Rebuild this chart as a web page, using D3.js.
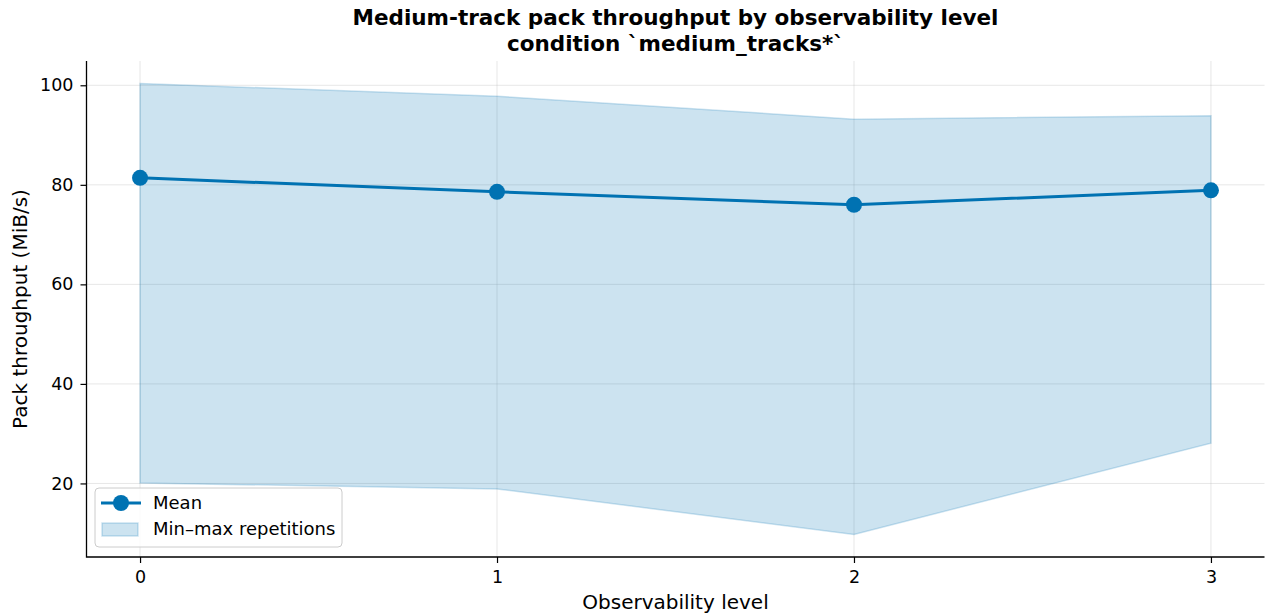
<!DOCTYPE html>
<html>
<head>
<meta charset="utf-8">
<script src="https://cdn.jsdelivr.net/npm/d3@7"></script>
<style>
  body { margin: 0; background: #fff; }
  svg { display: block; font-family: "DejaVu Sans", sans-serif; }
</style>
</head>
<body>
<script>
// Observability levels and throughput per level (MiB/s)
const levels = [0, 1, 2, 3];
const meanValues = [81.4, 78.6, 76.0, 78.9];
const minValues = [20.1, 18.9, 9.75, 28.1];
const maxValues = [100.35, 97.8, 93.2, 93.9];
const yTicks = [20, 40, 60, 80, 100];

const width = 1266, height = 614;
const marginTop = 61, marginRight = 1.5, marginBottom = 57, marginLeft = 86.5;
const color = "#0072B2";

const svg = d3.select("body").append("svg")
  .attr("width", width)
  .attr("height", height);

// matplotlib-style 5% margins around the data
const xPad = (d3.max(levels) - d3.min(levels)) * 0.05;
const yLo = d3.min(minValues), yHi = d3.max(maxValues);
const yPad = (yHi - yLo) * 0.05;

const x = d3.scaleLinear()
  .domain([d3.min(levels) - xPad, d3.max(levels) + xPad])
  .range([marginLeft, width - marginRight]);
const y = d3.scaleLinear()
  .domain([yLo - yPad, yHi + yPad])
  .range([height - marginBottom, marginTop]);

// grid
svg.append("g")
  .attr("stroke", "#b0b0b0")
  .attr("stroke-opacity", 0.3)
  .attr("stroke-width", 1)
  .call(g => g.selectAll("line.v").data(levels).join("line")
    .attr("x1", d => x(d)).attr("x2", d => x(d))
    .attr("y1", marginTop).attr("y2", height - marginBottom))
  .call(g => g.selectAll("line.h").data(yTicks).join("line")
    .attr("x1", marginLeft).attr("x2", width - marginRight)
    .attr("y1", d => y(d)).attr("y2", d => y(d)));

// min-max band
const band = levels.map((l, i) => ({ l, lo: minValues[i], hi: maxValues[i] }));
svg.append("path")
  .datum(band)
  .attr("fill", color)
  .attr("fill-opacity", 0.2)
  .attr("stroke", color)
  .attr("stroke-opacity", 0.2)
  .attr("stroke-width", 1.5)
  .attr("d", d3.area().x(d => x(d.l)).y0(d => y(d.lo)).y1(d => y(d.hi)));

// mean line
const pts = levels.map((l, i) => ({ l, v: meanValues[i] }));
svg.append("path")
  .datum(pts)
  .attr("fill", "none")
  .attr("stroke", color)
  .attr("stroke-width", 3)
  .attr("d", d3.line().x(d => x(d.l)).y(d => y(d.v)));
svg.append("g")
  .selectAll("circle")
  .data(pts)
  .join("circle")
  .attr("cx", d => x(d.l))
  .attr("cy", d => y(d.v))
  .attr("r", 8)
  .attr("fill", color);

// axes (spines drawn by hand, only left and bottom)
const xAxis = svg.append("g")
  .attr("transform", `translate(0,${height - marginBottom})`)
  .call(d3.axisBottom(x).tickValues(levels).tickFormat(d3.format("d")).tickSize(6).tickPadding(8));
const yAxis = svg.append("g")
  .attr("transform", `translate(${marginLeft},0)`)
  .call(d3.axisLeft(y).tickValues(yTicks).tickSize(6).tickPadding(7));
[xAxis, yAxis].forEach(g => {
  g.attr("font-family", "DejaVu Sans, sans-serif").attr("font-size", 17.5);
  g.select(".domain").remove();
  g.selectAll(".tick line").attr("stroke", "#000").attr("stroke-width", 1.2);
  g.selectAll(".tick text").attr("fill", "#000");
});
svg.append("path")
  .attr("fill", "none")
  .attr("stroke", "#000")
  .attr("stroke-width", 1.3)
  .attr("d", `M${marginLeft},${marginTop}V${height - marginBottom}H${width - marginRight}`);

// labels
svg.append("text")
  .attr("x", (marginLeft + width - marginRight) / 2)
  .attr("y", 609)
  .attr("text-anchor", "middle")
  .attr("font-size", 20)
  .text("Observability level");
svg.append("text")
  .attr("transform", `translate(27,${(marginTop + height - marginBottom) / 2}) rotate(-90)`)
  .attr("text-anchor", "middle")
  .attr("font-size", 20)
  .text("Pack throughput (MiB/s)");

const title = svg.append("text")
  .attr("text-anchor", "middle")
  .attr("font-size", 21.5)
  .attr("font-weight", "bold");
title.append("tspan").attr("x", (marginLeft + width - marginRight) / 2).attr("y", 25)
  .text("Medium-track pack throughput by observability level");
title.append("tspan").attr("x", (marginLeft + width - marginRight) / 2).attr("y", 51)
  .text("condition `medium_tracks*`");

// legend
const lg = svg.append("g").attr("transform", "translate(95,488)");
lg.append("rect")
  .attr("width", 247).attr("height", 59).attr("rx", 4)
  .attr("fill", "#fff").attr("fill-opacity", 0.8)
  .attr("stroke", "#ccc");
lg.append("line").attr("x1", 6).attr("x2", 46).attr("y1", 15).attr("y2", 15)
  .attr("stroke", color).attr("stroke-width", 3);
lg.append("circle").attr("cx", 26).attr("cy", 15).attr("r", 8).attr("fill", color);
lg.append("rect").attr("x", 7).attr("y", 35).attr("width", 36).attr("height", 13)
  .attr("fill", color).attr("fill-opacity", 0.2)
  .attr("stroke", color).attr("stroke-opacity", 0.2).attr("stroke-width", 1.5);
lg.selectAll("text.lbl")
  .data(["Mean", "Min\u2013max repetitions"])
  .join("text")
  .attr("x", 58)
  .attr("y", (d, i) => 21 + i * 26)
  .attr("font-size", 18)
  .text(d => d);
</script>
</body>
</html>
